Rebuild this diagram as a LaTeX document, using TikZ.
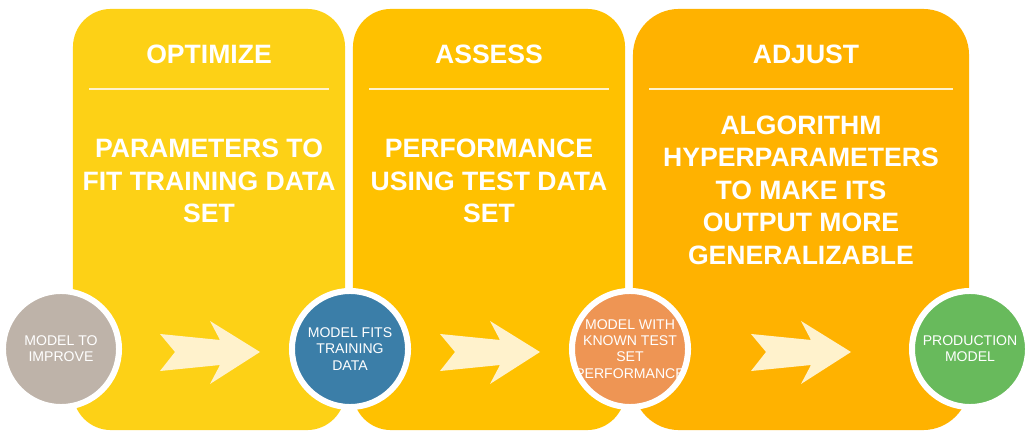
\documentclass[tikz,border=0pt]{standalone}
\usepackage{fontspec}
\setmainfont{Liberation Sans}
\usepackage{tikz}
\usetikzlibrary{positioning}
\usepackage{xcolor}
\definecolor{optyellow}{RGB}{253,209,22}
\definecolor{assessgold}{RGB}{255,193,0}
\definecolor{adjustamber}{RGB}{255,178,0}
\definecolor{cream}{RGB}{255,242,204}
\definecolor{modelgrey}{RGB}{190,179,169}
\definecolor{modelblue}{RGB}{59,126,168}
\definecolor{modelorange}{RGB}{238,149,84}
\definecolor{modelgreen}{RGB}{104,186,92}
\tikzstyle{panel} = [rectangle, rounded corners=0.95cm, minimum width=6.8cm, minimum height=10.525cm, inner sep=0pt]
\tikzstyle{steptitle} = [text=white, anchor=base, font=\fontsize{18.9}{23}\selectfont\bfseries]
\tikzstyle{steptext} = [text=white, align=center, font=\fontsize{18.9}{23.1}\selectfont\bfseries]
\tikzstyle{model} = [circle, minimum size=2.9cm, inner sep=-6pt, align=center, text=white, font=\fontsize{10}{11.6}\selectfont]
\tikzstyle{ring} = [draw=white, line width=0.15cm]
\tikzstyle{titleline} = [draw=cream, line width=0.05cm]
\tikzstyle{bigarrow} = [fill=cream]

\begin{document}
\begin{tikzpicture}[x=0.025cm, y=-0.025cm]
\useasboundingbox (0,0) rectangle (1031,438);
% Three steps
\node[panel, fill=optyellow] (optimize) at (209,219.5) {};
\node[panel, fill=assessgold] (assess) at (489,219.5) {};
\node[panel, fill=adjustamber, minimum width=8.4cm, rounded corners=1.15cm] (adjust) at (801,219.5) {};

% Titles and rules
\node[steptitle] (opttitle) at (209,64) {OPTIMIZE};
\node[steptitle] (asstitle) at (489,64) {ASSESS};
\node[steptitle] (adjtitle) at (806,64) {ADJUST};
\draw[titleline] (89,89) -- (329,89);
\draw[titleline] (369,89) -- (609,89);
\draw[titleline] (649,89) -- (953,89);

% What each step does
\node[steptext] (opttext) at (209,181) {PARAMETERS TO\\FIT TRAINING DATA\\SET};
\node[steptext] (asstext) at (489,181) {PERFORMANCE\\USING TEST DATA\\SET};
\node[steptext] (adjtext) at (801,190) {ALGORITHM\\HYPERPARAMETERS\\TO MAKE ITS\\OUTPUT MORE\\GENERALIZABLE};

% Arrows between the models
\foreach \dx in {0,280,591}
  \fill[bigarrow, shift={(\dx,0)}] (160,334) -- (220,340) -- (210,321) -- (260,352) -- (210,384) -- (220,365) -- (160,371) -- (175,352) -- cycle;

% Models
\node[model, fill=modelgrey] (start) at (61,349) {MODEL TO\\IMPROVE};
\node[model, fill=modelblue] (fitted) at (350,349) {MODEL FITS\\TRAINING\\DATA};
\node[model, fill=modelorange] (tested) at (630,349) {MODEL WITH\\KNOWN TEST\\SET\\PERFORMANCE};
\node[model, fill=modelgreen] (production) at (970,349) {PRODUCTION\\MODEL};
\foreach \m in {start,fitted,tested,production}
  \draw[ring] (\m.center) circle[radius=1.45cm];
\end{tikzpicture}
\end{document}
